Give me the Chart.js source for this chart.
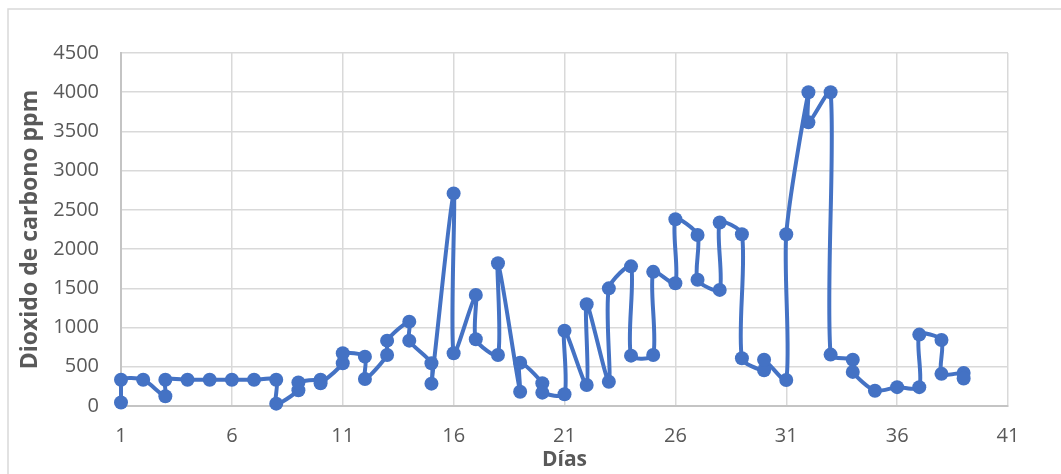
<!DOCTYPE html>
<html>
<head>
<meta charset="utf-8">
<script src="https://cdn.jsdelivr.net/npm/chart.js@4"></script>
<style>
  html, body { margin: 0; padding: 0; background: #ffffff; }
  #wrap { width: 1061px; height: 474px; position: relative; }
</style>
</head>
<body>
<div id="wrap"><canvas id="co2" width="1061" height="474"></canvas></div>
<script>
// Measurement day for each reading (several readings share a day)
const days = [1,1,2,3,3,4,5,6,7,8,8,9,9,10,10,11,11,12,12,13,13,14,14,15,15,16,16,17,17,18,18,19,19,20,20,21,21,22,22,23,23,24,24,25,25,26,26,27,27,28,28,29,29,30,30,31,31,32,32,33,33,34,34,35,36,37,37,38,38,39,39];
// Carbon dioxide reading (ppm), in the order they were taken
const co2ppm = [45,335,335,125,335,335,335,335,335,335,30,200,300,335,290,545,672,629,344,650,833,1075,833,545,285,2710,672,1416,851,650,1820,182,552,290,170,149,960,268,1297,310,1500,1780,642,650,1710,1565,2380,2180,1610,1480,2340,2190,608,455,590,332,2190,4000,3616,4000,655,590,435,195,240,240,910,842,410,420,350];
// Axis tick values
const xTicks = [1,6,11,16,21,26,31,36,41];
const yTicks = [0,500,1000,1500,2000,2500,3000,3500,4000,4500];

const points = days.map((d, i) => ({ x: d, y: co2ppm[i] }));

const FONT = "'Open Sans', 'Liberation Sans', sans-serif";
const TEXT = '#595959';

// Light frame around the chart
const framePlugin = {
  id: 'frame',
  beforeDraw(chart) {
    const ctx = chart.ctx;
    ctx.save();
    ctx.strokeStyle = '#d9d9d9';
    ctx.lineWidth = 1.5;
    ctx.beginPath();
    ctx.moveTo(8, 480);
    ctx.lineTo(8, 9);
    ctx.lineTo(1070, 9);
    ctx.stroke();
    ctx.restore();
  }
};

new Chart(document.getElementById('co2'), {
  type: 'scatter',
  data: {
    datasets: [{
      data: points,
      showLine: true,
      clip: false,
      borderColor: '#4472C4',
      backgroundColor: '#4472C4',
      borderWidth: 4,
      tension: 0.25,
      pointRadius: 7,
      pointHoverRadius: 7,
      pointBorderWidth: 0
    }]
  },
  options: {
    responsive: false,
    animation: false,
    events: [],
    layout: { padding: { top: 53, right: 53, left: 0, bottom: 0 } },
    plugins: {
      legend: { display: false },
      tooltip: { enabled: false }
    },
    scales: {
      x: {
        type: 'linear',
        min: 1,
        max: 41,
        afterBuildTicks(scale) { scale.ticks = xTicks.map(v => ({ value: v })); },
        afterFit(scale) { scale.height = 474 - 406; },
        grid: { color: '#d9d9d9', lineWidth: 1.5, drawTicks: false },
        border: { color: '#c4c4c4', width: 2 },
        ticks: {
          padding: 18,
          color: TEXT,
          font: { family: FONT, size: 20 },
          maxRotation: 0,
          callback: v => String(v)
        },
        title: {
          display: true,
          text: 'Días',
          color: TEXT,
          font: { family: FONT, size: 21, weight: 'bold' },
          padding: { top: 0, bottom: 1 }
        }
      },
      y: {
        type: 'linear',
        min: 0,
        max: 4500,
        afterBuildTicks(scale) { scale.ticks = yTicks.map(v => ({ value: v })); },
        afterFit(scale) { scale.width = 121; },
        grid: { color: '#d9d9d9', lineWidth: 1.5, drawTicks: false },
        border: { color: '#c4c4c4', width: 2 },
        ticks: {
          padding: 22,
          color: TEXT,
          font: { family: FONT, size: 20 },
          callback: v => String(v)
        },
        title: {
          display: true,
          text: 'Dioxido de carbono ppm',
          color: TEXT,
          font: { family: FONT, size: 23, weight: 'bold' },
          padding: { top: 17, bottom: 0 }
        }
      }
    }
  },
  plugins: [framePlugin]
});
</script>
</body>
</html>
